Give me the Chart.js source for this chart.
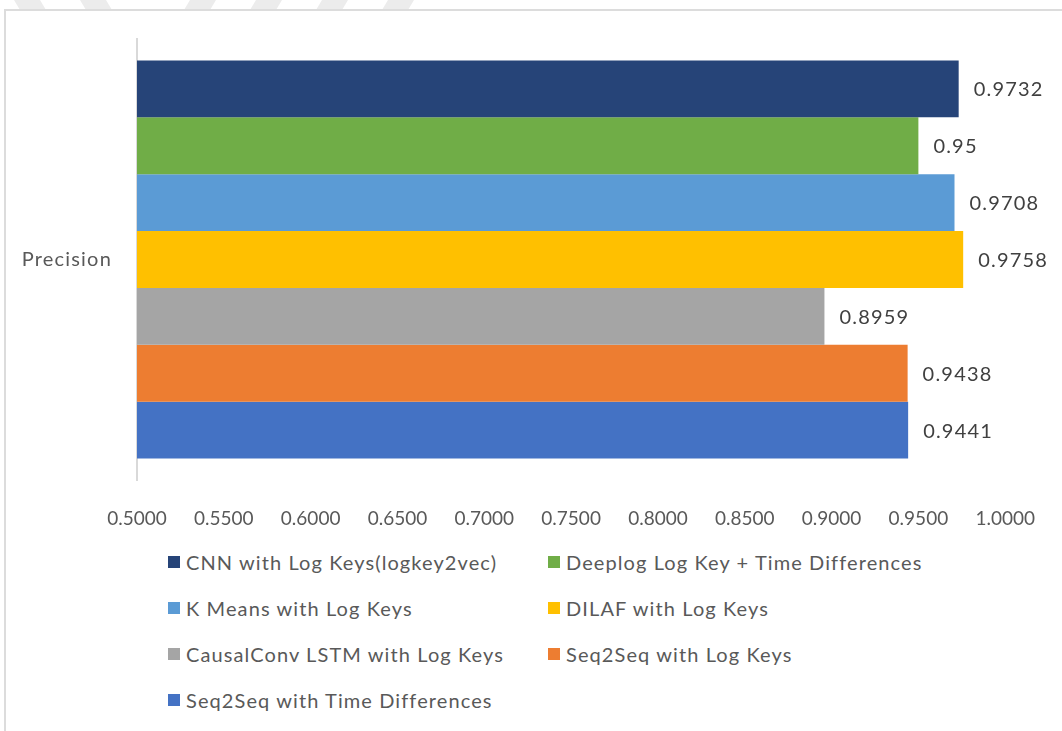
<!DOCTYPE html>
<html lang="en">
<head>
    <title>Precision by Model</title>
    <script src="https://cdn.jsdelivr.net/npm/chart.js"></script>
    <style>
        body { margin: 0; background: #fff; font-family: Lato, "Open Sans", sans-serif; }
        #page { position: relative; width: 1062px; height: 731px; overflow: hidden; }
        #frame { position: absolute; left: 4px; top: 9px; width: 1080px; height: 740px;
                 border-top: 2px solid #dcdcdc; border-left: 2px solid #dcdcdc; }
        #marks { position: absolute; left: 0; top: 0; }
        #wrap { position: absolute; left: 0; top: 0; width: 1062px; height: 550px; }
        #legend { position: absolute; left: 168px; top: 550px; display: grid;
                  grid-template-columns: 380px 400px; row-gap: 22px; }
        .item { display: flex; align-items: center; font-size: 20px; letter-spacing: 1.1px;
                color: #595959; height: 24px; white-space: nowrap; }
        .box { width: 12px; height: 12px; margin-right: 6px; flex: none; }
    </style>
</head>
<body>
<div id="page">
    <svg id="marks" width="1062" height="12">
        <g fill="#ececec">
            <polygon points="14,0 40,0 46,10 20,10"/>
            <polygon points="80,0 106,0 112,10 86,10"/>
            <polygon points="190,0 216,0 210,10 184,10"/>
            <polygon points="256,0 282,0 276,10 250,10"/>
            <polygon points="322,0 348,0 342,10 316,10"/>
            <polygon points="388,0 414,0 408,10 382,10"/>
        </g>
    </svg>
    <div id="frame"></div>
    <div id="wrap"><canvas id="precisionChart"></canvas></div>
    <div id="legend"></div>
</div>
<script>
    const categories = ['Precision'];
    const seriesNames = [
        'CNN with Log Keys(logkey2vec)',
        'Deeplog Log Key + Time Differences',
        'K Means with Log Keys',
        'DILAF with Log Keys',
        'CausalConv LSTM with Log Keys',
        'Seq2Seq with Log Keys',
        'Seq2Seq with Time Differences'
    ];
    const precisionValues = [0.9732, 0.95, 0.9708, 0.9758, 0.8959, 0.9438, 0.9441];
    const seriesColors = ['#264478', '#70AD47', '#5B9BD5', '#FFC000', '#A5A5A5', '#ED7D31', '#4472C4'];
    const xTicks = [0.5, 0.55, 0.6, 0.65, 0.7, 0.75, 0.8, 0.85, 0.9, 0.95, 1.0];

    const labelFont = '20px Lato, "Open Sans", sans-serif';

    // category name left of the axis, and each value just past its bar
    const barText = {
        id: 'barText',
        afterDatasetsDraw(chart) {
            const ctx = chart.ctx;
            const yScale = chart.scales.y;
            ctx.save();
            ctx.font = labelFont;
            ctx.letterSpacing = '1.2px';
            ctx.textBaseline = 'middle';

            ctx.fillStyle = '#595959';
            ctx.textAlign = 'right';
            chart.data.labels.forEach((lab, i) => {
                ctx.fillText(lab, yScale.right - 25, yScale.getPixelForTick(i));
            });

            ctx.fillStyle = '#404040';
            ctx.textAlign = 'left';
            chart.data.datasets.forEach((ds, i) => {
                chart.getDatasetMeta(i).data.forEach((bar, j) => {
                    ctx.fillText(String(ds.data[j]), bar.x + 15, bar.y + 1);
                });
            });
            ctx.restore();
        }
    };

    const datasets = seriesNames.map((name, i) => ({
        label: name,
        data: [precisionValues[i]],
        backgroundColor: seriesColors[i],
        borderWidth: 0
    }));

    new Chart(document.getElementById('precisionChart'), {
        type: 'bar',
        data: { labels: categories, datasets: datasets },
        plugins: [barText],
        options: {
            indexAxis: 'y',
            responsive: true,
            maintainAspectRatio: false,
            animation: false,
            layout: { padding: { top: 39, right: 53, left: 0, bottom: 0 } },
            plugins: { legend: { display: false }, tooltip: { enabled: false } },
            datasets: { bar: { categoryPercentage: 0.9025, barPercentage: 1 } },
            scales: {
                x: {
                    min: 0.5,
                    max: 1.0,
                    afterBuildTicks(scale) { scale.ticks = xTicks.map(v => ({ value: v })); },
                    afterFit(scale) { scale.height = 70; },
                    grid: { display: false, drawTicks: false },
                    border: { display: false },
                    ticks: {
                        padding: 27,
                        color: '#595959',
                        font: { family: 'Lato, "Open Sans", sans-serif', size: 19 },
                        callback: v => Number(v).toFixed(4)
                    }
                },
                y: {
                    afterFit(scale) { scale.width = 137; },
                    grid: { display: false, drawTicks: false },
                    border: { display: true, color: '#d9d9d9', width: 2 },
                    ticks: { display: false }
                }
            }
        }
    });

    // two-column legend under the axis
    const legend = document.getElementById('legend');
    seriesNames.forEach((name, i) => {
        legend.innerHTML += `<div class="item"><span class="box" style="background:${seriesColors[i]}"></span>${name}</div>`;
    });
</script>
</body>
</html>
